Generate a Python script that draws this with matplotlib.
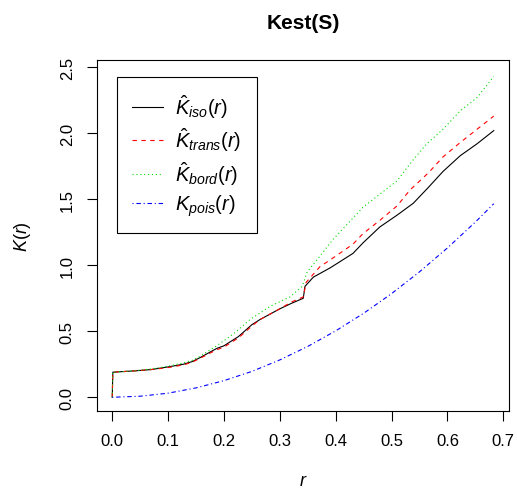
import matplotlib
matplotlib.use("Agg")
import matplotlib.pyplot as plt

plt.rcParams['font.family'] = ['Liberation Sans', 'DejaVu Sans']
plt.rcParams['mathtext.fontset'] = 'custom'
plt.rcParams['mathtext.rm'] = 'Liberation Sans'
plt.rcParams['mathtext.it'] = 'Liberation Sans:italic'
plt.rcParams['mathtext.bf'] = 'Liberation Sans:bold'

# values
r_iso = [0, 0.001, 0.04, 0.07, 0.10, 0.127, 0.143, 0.157, 0.187, 0.20, 0.226, 0.25,
         0.265, 0.30, 0.32, 0.342, 0.345, 0.36, 0.39, 0.431, 0.449, 0.479, 0.51,
         0.539, 0.566, 0.592, 0.623, 0.653, 0.683]
k_iso = [0, 0.19, 0.20, 0.21, 0.23, 0.25, 0.27, 0.30, 0.37, 0.39, 0.46, 0.55,
         0.59, 0.67, 0.71, 0.75, 0.84, 0.91, 0.98, 1.09, 1.17, 1.29, 1.38,
         1.47, 1.59, 1.71, 1.83, 1.92, 2.02]

r_trans = [0, 0.001, 0.04, 0.07, 0.10, 0.127, 0.143, 0.157, 0.187, 0.20, 0.226, 0.25,
           0.265, 0.30, 0.32, 0.342, 0.347, 0.372, 0.39, 0.431, 0.449, 0.479, 0.51,
           0.533, 0.566, 0.592, 0.623, 0.653, 0.683]
k_trans = [0, 0.19, 0.20, 0.21, 0.225, 0.245, 0.265, 0.295, 0.36, 0.38, 0.45, 0.54,
           0.59, 0.67, 0.72, 0.76, 0.87, 0.99, 1.04, 1.16, 1.24, 1.34, 1.45,
           1.57, 1.70, 1.82, 1.93, 2.03, 2.13]

r_bord = [0, 0.001, 0.04, 0.07, 0.10, 0.127, 0.143, 0.157, 0.187, 0.217, 0.247,
          0.283, 0.318, 0.34, 0.349, 0.372, 0.394, 0.449, 0.51, 0.537, 0.563,
          0.592, 0.623, 0.653, 0.683]
k_bord = [0, 0.19, 0.20, 0.215, 0.235, 0.26, 0.28, 0.31, 0.39, 0.48, 0.59,
          0.69, 0.76, 0.84, 0.95, 1.07, 1.19, 1.44, 1.64, 1.79, 1.92,
          2.03, 2.17, 2.27, 2.43]

r_pois = [0, 0.05, 0.10, 0.15, 0.20, 0.25, 0.30, 0.35, 0.40, 0.45, 0.50, 0.55,
          0.60, 0.65, 0.683]
k_pois = [0, 0.008, 0.031, 0.071, 0.126, 0.196, 0.283, 0.385, 0.503, 0.636,
          0.785, 0.95, 1.131, 1.327, 1.466]

x_ticks = [0.0, 0.1, 0.2, 0.3, 0.4, 0.5, 0.6, 0.7]
y_ticks = [0.0, 0.5, 1.0, 1.5, 2.0, 2.5]

fig = plt.figure(figsize=(5.17, 4.89), dpi=100)
ax = fig.add_axes([97/517, 77/489, 412/517, 351/489])

lw = 0.8
ax.plot(r_iso, k_iso, color='black', lw=lw, label=r'$\hat{K}_{iso}(r)$')
ax.plot(r_trans, k_trans, color='red', lw=lw, dashes=(4, 4), label=r'$\hat{K}_{trans}(r)$')
ax.plot(r_bord, k_bord, color='#00dd00', lw=lw, dashes=(1, 2.5), label=r'$\hat{K}_{bord}(r)$')
ax.plot(r_pois, k_pois, color='blue', lw=lw, dashes=(1, 2.5, 4, 2.5), label=r'$K_{pois}(r)$')

ax.set_xlim(-0.0273, 0.7103)
ax.set_ylim(-0.104, 2.555)
ax.set_xticks(x_ticks)
ax.set_yticks(y_ticks)
ax.set_xticklabels([f'{v:.1f}' for v in x_ticks])
ax.set_yticklabels([f'{v:.1f}' for v in y_ticks], rotation=90, va='center')
ax.tick_params(length=7, width=0.8, labelsize=12, pad=9)
for s in ax.spines.values():
    s.set_linewidth(0.8)

ax.set_title('Kest(S)', fontsize=15, fontweight='bold', pad=23)
ax.set_xlabel(r'$r$', fontsize=13, labelpad=17)
ax.set_ylabel(r'$K(r)$', fontsize=13, labelpad=19)

leg = ax.legend(loc='upper left', bbox_to_anchor=(0.0485, 0.9516), borderaxespad=0,
                fancybox=False, edgecolor='black', framealpha=1, fontsize=14.5,
                handlelength=1.55, handletextpad=0.6, borderpad=0.75, labelspacing=0.3)
leg.get_frame().set_linewidth(0.8)

fig.savefig('out.png', dpi=100)
